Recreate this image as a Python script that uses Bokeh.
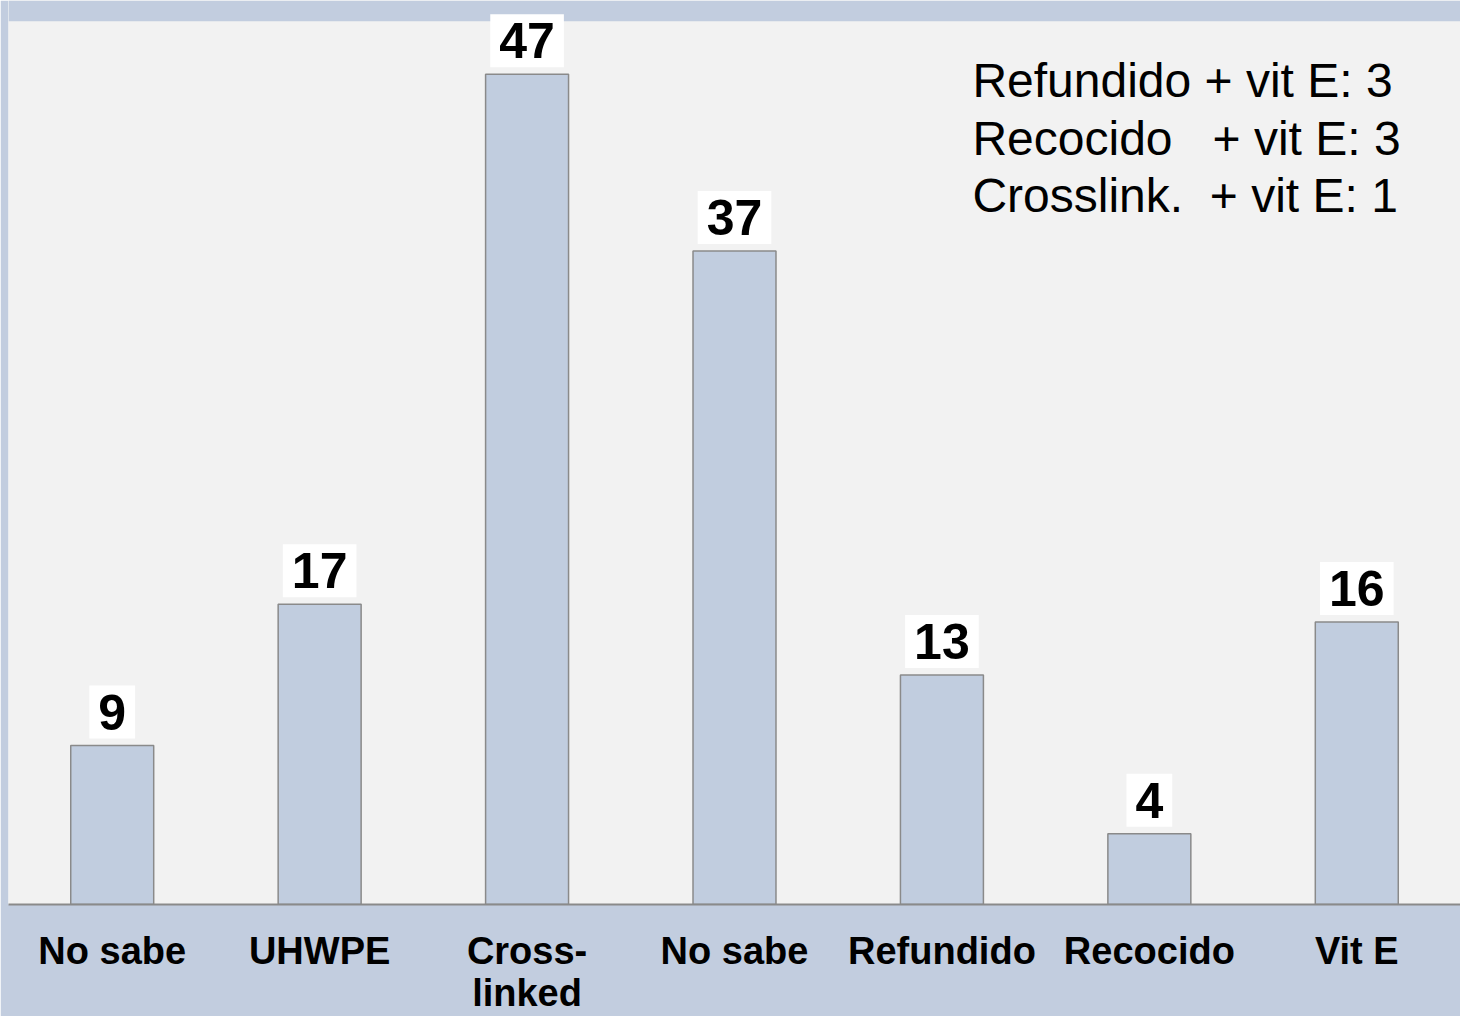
from bokeh.plotting import figure
from bokeh.models import Range1d, FixedTicker, ColumnDataSource, Label, BoxAnnotation
from bokeh.embed import file_html
from bokeh.resources import INLINE

categories = ["No sabe", "UHWPE", "Cross-\nlinked", "No sabe", "Refundido", "Recocido", "Vit E"]
counts = [9, 17, 47, 37, 13, 4, 16]
annot_lines = ["Refundido + vit E: 3",
               "Recocido\u00a0\u00a0\u00a0+ vit E: 3",
               "Crosslink.\u00a0\u00a0+ vit E: 1"]

BG_OUTER = "#c2cddf"
xs = list(range(len(categories)))
src = ColumnDataSource(dict(x=xs, top=counts))

p = figure(width=1460, height=1016, output_backend="svg", toolbar_location=None,
           x_range=Range1d(-0.5, 6.5), y_range=Range1d(0, 51.18),
           y_axis_location=None,
           min_border_left=8, min_border_right=0, min_border_top=0, min_border_bottom=108)
p.border_fill_color = BG_OUTER
p.background_fill_color = "#f2f2f2"
p.outline_line_color = None
p.grid.visible = False

# outer band above the plotting area
p.add_layout(BoxAnnotation(bottom=50, fill_color=BG_OUTER, fill_alpha=1, line_alpha=0))

p.vbar(x="x", top="top", bottom=0, width=0.4, source=src,
       fill_color="#c1cddf", line_color="#8a8a8a", line_width=1.5)

has_pad = "padding" in Label.properties()
for xi, c in zip(xs, counts):
    kw = dict(x=xi, y=c, text=str(c),
              text_font="Liberation Sans", text_font_style="bold",
              text_font_size="50px", text_align="center", text_baseline="bottom",
              text_color="black", y_offset=10, background_fill_color="white",
              border_line_color="white", border_line_width=6,
              border_line_join="miter")
    if has_pad:
        kw["padding"] = 6
    p.add_layout(Label(**kw))

ax = p.xaxis[0]
ax.ticker = FixedTicker(ticks=xs)
ax.major_label_overrides = {i: c for i, c in enumerate(categories)}
ax.major_label_text_font = "Liberation Sans"
ax.major_label_text_font_style = "bold"
ax.major_label_text_font_size = "38px"
ax.major_label_text_line_height = 1.0
ax.major_label_text_color = "black"
ax.major_label_standoff = 25
ax.major_tick_in = 0
ax.major_tick_out = 0
ax.minor_tick_in = 0
ax.minor_tick_out = 0
ax.axis_line_color = "#8a8a8a"
ax.axis_line_width = 2

x0 = 4.147
for i, line in enumerate(annot_lines):
    p.add_layout(Label(x=x0, y=46.66 - 3.27 * i, text=line,
                       text_font="Liberation Sans", text_font_size="48px",
                       text_align="left", text_baseline="middle", text_color="black"))

open("out.html", "w").write(file_html(p, INLINE))
